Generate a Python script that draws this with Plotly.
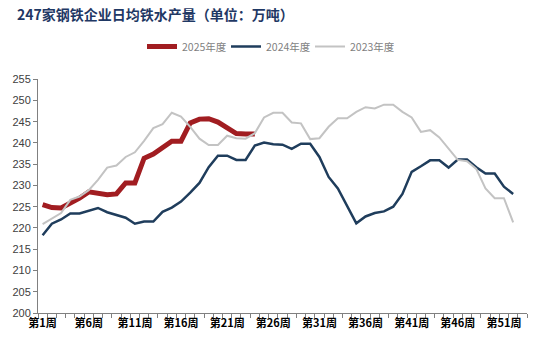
import plotly.graph_objects as go

# Weekly daily-average hot-metal output of 247 steel mills (10k tonnes)
weeks_2025 = list(range(1, 25))
output_2025 = [225.5, 224.8, 224.7, 225.8, 227.0, 228.5, 228.2, 227.8, 228.0, 230.6,
               230.6, 236.4, 237.4, 238.8, 240.4, 240.4, 244.7, 245.6, 245.7, 244.9,
               243.5, 242.2, 242.1, 242.1]

weeks_2024 = list(range(1, 53))
output_2024 = [218.3, 221.0, 222.0, 223.4, 223.4, 224.1, 224.7, 223.7, 223.0, 222.4,
               221.0, 221.5, 221.5, 223.8, 224.8, 226.2, 228.3, 230.6, 234.3, 237.0,
               237.0, 236.0, 236.0, 239.4, 240.1, 239.7, 239.6, 238.6, 239.8, 239.8,
               236.7, 232.0, 229.3, 225.1, 221.1, 222.7, 223.5, 223.9, 225.0, 228.0,
               233.2, 234.5, 235.9, 235.9, 234.2, 236.1, 236.1, 234.3, 232.8, 232.8,
               229.7, 228.0]

weeks_2023 = list(range(1, 53))
output_2023 = [220.9, 222.1, 223.5, 226.6, 227.4, 228.9, 231.3, 234.2, 234.7, 236.7,
               237.8, 240.5, 243.5, 244.4, 247.1, 246.2, 243.8, 241.0, 239.5, 239.5,
               241.7, 241.1, 241.0, 242.3, 246.0, 247.1, 247.1, 244.8, 244.6, 240.9,
               241.1, 243.8, 245.8, 245.8, 247.3, 248.4, 248.1, 249.0, 249.0, 247.3,
               246.0, 242.6, 243.0, 241.3, 238.6, 236.0, 235.7, 233.9, 229.3, 227.0,
               227.0, 221.3]

tick_weeks = [1, 6, 11, 16, 21, 26, 31, 36, 41, 46, 51]
tick_labels = ["第1周", "第6周", "第11周", "第16周", "第21周", "第26周",
               "第31周", "第36周", "第41周", "第46周", "第51周"]

W, H = 541, 345
CJK = "Noto Sans CJK SC"

fig = go.Figure()
fig.add_trace(go.Scatter(x=weeks_2025, y=output_2025, name="2025年度", mode="lines",
                         line=dict(color="#A11D21", width=5)))
fig.add_trace(go.Scatter(x=weeks_2024, y=output_2024, name="2024年度", mode="lines",
                         line=dict(color="#1F3D5C", width=2.5)))
fig.add_trace(go.Scatter(x=weeks_2023, y=output_2023, name="2023年度", mode="lines",
                         line=dict(color="#C3C3C3", width=2)))

fig.update_layout(
    width=W, height=H,
    margin=dict(l=36.5, r=14, t=76, b=32),
    paper_bgcolor="white", plot_bgcolor="white",
    title=dict(text="<b>247家钢铁企业日均铁水产量（单位：万吨）</b>",
               font=dict(family=CJK, size=14, color="#1F3864"),
               xref="container", yref="container",
               x=17 / W, xanchor="left", y=1 - 15 / H, yanchor="middle"),
    legend=dict(orientation="h", xref="container", yref="container",
                x=142 / W, xanchor="left", y=1 - 46.5 / H, yanchor="middle",
                font=dict(family=CJK, size=10.5, color="#7F7F7F"),
                entrywidth=39, entrywidthmode="pixels",
                bgcolor="rgba(0,0,0,0)"),
    showlegend=True,
)

fig.update_xaxes(
    range=[0.5, 53.5],
    tickmode="array", tickvals=tick_weeks, ticktext=tick_labels,
    ticks="", showgrid=False, zeroline=False,
    showline=True, linecolor="#808080", linewidth=1,
    tickfont=dict(family=CJK, size=11, color="#000000", weight="bold"),
    minor=dict(ticks="outside", tick0=0.5, dtick=1, ticklen=4,
               tickcolor="#808080", showgrid=False),
)
fig.update_yaxes(
    range=[200, 255], tickmode="linear", tick0=200, dtick=5,
    ticks="outside", ticklen=4, tickcolor="#808080",
    showgrid=False, zeroline=False,
    showline=True, linecolor="#808080", linewidth=1,
    tickfont=dict(family="Liberation Sans, Arial", size=11, color="#404040"),
)

fig.write_html("out.html")
